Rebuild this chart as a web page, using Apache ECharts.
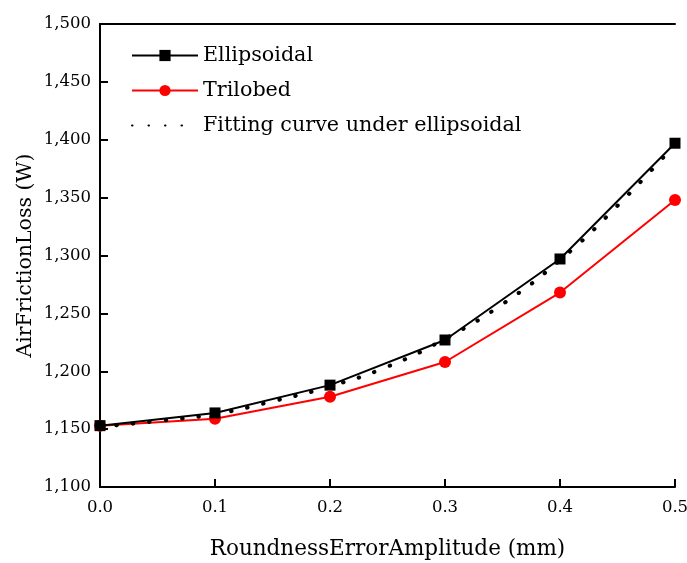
<!DOCTYPE html>
<html>
<head>
<meta charset="utf-8">
<script src="https://cdn.jsdelivr.net/npm/echarts@6/dist/echarts.min.js"></script>
<style>html,body{margin:0;padding:0;background:#fff}#c{width:687px;height:563px}</style>
</head>
<body>
<div id="c"></div>
<script>
const xValues = [0.0, 0.1, 0.2, 0.3, 0.4, 0.5];
const ellipsoidal = [1153, 1164, 1188, 1227, 1297, 1397];
const trilobed = [1153, 1159, 1178, 1208, 1268, 1348];
const fitX = [0.0, 0.05, 0.1, 0.15, 0.2, 0.25, 0.3, 0.35, 0.4, 0.45, 0.5];
const fitY = [1152, 1157, 1163, 1174, 1187, 1204, 1228, 1258, 1296, 1343, 1396];
const seriesNames = ['Ellipsoidal', 'Trilobed', 'Fitting curve under ellipsoidal'];
const xTitle = 'RoundnessErrorAmplitude (mm)';
const yTitle = 'AirFrictionLoss (W)';

const FONT = 'DejaVu Serif';
const pairs = (xs, ys) => xs.map((x, i) => [x, ys[i]]);
const chart = echarts.init(document.getElementById('c'));
const baseAxisLine = { show: true, lineStyle: { color: '#000', width: 2 } };
chart.setOption({
  animation: false,
  backgroundColor: '#fff',
  grid: { left: 100, right: 12, top: 24, bottom: 76, outerBoundsMode: 'none', containLabel: false },
  legend: {
    orient: 'vertical', left: 126, top: 40,
    itemWidth: 66, itemHeight: 14, itemGap: 14,
    textStyle: { fontFamily: FONT, fontSize: 20.7, color: '#000' },
    data: [
      { name: seriesNames[0] },
      { name: seriesNames[1] },
      { name: seriesNames[2], itemStyle: { opacity: 0 } }
    ]
  },
  xAxis: [{
    type: 'value', min: 0, max: 0.5, interval: 0.1, position: 'bottom',
    name: xTitle, nameLocation: 'middle', nameGap: 51, nameMoveOverlap: false,
    nameTextStyle: { fontFamily: FONT, fontSize: 21.5, color: '#000' },
    axisLine: baseAxisLine,
    axisTick: { show: true, inside: true, length: 8, lineStyle: { color: '#000', width: 2 } },
    axisLabel: { fontFamily: FONT, fontSize: 16.5, color: '#000', margin: 12, formatter: v => v.toFixed(1) },
    splitLine: { show: false }
  }, {
    type: 'value', min: 0, max: 0.5, interval: 0.1, position: 'top',
    axisLine: baseAxisLine, axisTick: { show: false }, axisLabel: { show: false }, splitLine: { show: false }
  }],
  yAxis: [{
    type: 'value', min: 1100, max: 1500, interval: 50, position: 'left',
    name: yTitle, nameLocation: 'middle', nameGap: 64, nameRotate: 90, nameMoveOverlap: false,
    nameTextStyle: { fontFamily: FONT, fontSize: 20.5, color: '#000' },
    axisLine: baseAxisLine,
    axisTick: { show: true, inside: true, length: 8, lineStyle: { color: '#000', width: 2 } },
    axisLabel: { fontFamily: FONT, fontSize: 16.5, color: '#000', margin: 9, formatter: v => v.toLocaleString('en-US') },
    splitLine: { show: false }
  }, {
    type: 'value', min: 1100, max: 1500, interval: 50, position: 'right',
    axisLine: baseAxisLine, axisTick: { show: false }, axisLabel: { show: false }, splitLine: { show: false }
  }],
  series: [{
    name: seriesNames[0], type: 'line', data: pairs(xValues, ellipsoidal),
    symbol: 'rect', symbolSize: 11, itemStyle: { color: '#000' },
    lineStyle: { color: '#000', width: 2 }, z: 3
  }, {
    name: seriesNames[1], type: 'line', data: pairs(xValues, trilobed),
    symbol: 'circle', symbolSize: 12, itemStyle: { color: '#ff0000' },
    lineStyle: { color: '#ff0000', width: 2 }, z: 2
  }, {
    name: seriesNames[2], type: 'line', data: pairs(fitX, fitY), smooth: true,
    showSymbol: false, symbol: 'none', itemStyle: { color: '#000' },
    lineStyle: { color: '#000', width: 4, type: [0.5, 16], cap: 'round' }, z: 4
  }]
});
</script>
</body>
</html>
